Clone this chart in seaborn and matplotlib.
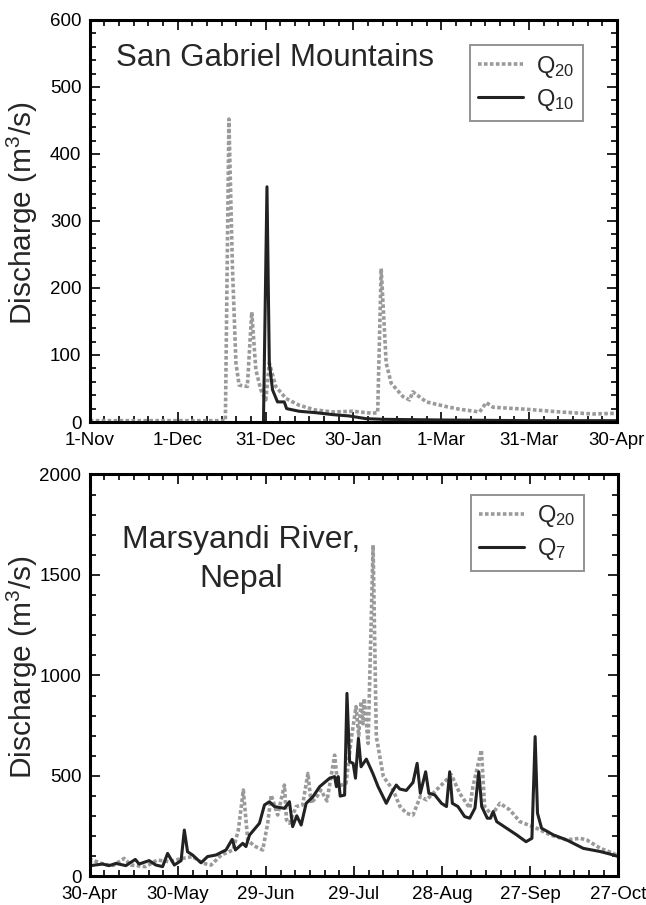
import matplotlib
matplotlib.use("Agg")
import matplotlib.pyplot as plt
from matplotlib.ticker import MultipleLocator, FixedLocator
import seaborn as sns
import pandas as pd

# ---------------- data ----------------
# Top panel: San Gabriel Mountains (days since 1-Nov)
sg_q20_day = [0, 10, 20, 30, 40, 46.3, 47.5, 48.7, 49.9, 51.0, 53.8, 55.3, 56.7, 58.4, 60.1,
              61.3, 63.5, 67.0, 71.5, 77.0, 83.0, 89.8, 96.6, 98.3, 99.5, 101.2, 102.9,
              106.9, 109.2, 110.3, 114.9, 121.7, 126.3, 133.1, 135.4, 137.7, 149.1, 160.5,
              171.9, 180]
sg_q20_val = [2, 2, 2, 2, 2, 2, 452, 232, 88, 55, 53, 164, 78, 48, 33,
              88, 53, 35, 25, 18, 15, 16, 13, 14, 229, 88, 58,
              38, 33, 45, 30, 23, 19, 15, 29, 22, 19, 15,
              12, 13]
sg_q10_day = [59.3, 60.5, 61.3, 62.4, 64.1, 66.4, 67.2, 71.5, 77.0, 83.0, 88.6, 94.3,
              100.0, 120, 150, 180]
sg_q10_val = [0, 351, 88, 48, 30, 30, 20, 16, 14, 11, 9, 5,
              4, 3, 2, 2]
sg_tick_labels = ["1-Nov", "1-Dec", "31-Dec", "30-Jan", "1-Mar", "31-Mar", "30-Apr"]

# Bottom panel: Marsyandi River, Nepal (days since 30-Apr)
mr_q7_day = [0.3, 4.3, 6.6, 8.9, 12.3, 15.5, 16.8, 20.2, 22.5, 24.8, 26.5, 28.8, 31.1, 32.2,
             33.3, 35.0, 37.9, 40.1, 43.0, 46.4, 48.5, 49.6, 52.1, 53.2, 54.4, 57.8, 59.5,
             61.2, 62.9, 66.3, 68.0, 69.1, 70.5, 72.0, 73.7, 76.0, 78.3, 81.7, 83.4, 84.0,
             84.6, 85.3, 86.8, 87.6, 88.5, 89.7, 90.5, 91.5, 92.4, 94.2, 96.4, 98.2, 101.0,
             102.7, 104.4, 105.6, 107.8, 110.1, 111.5, 112.6, 114.4, 115.5, 117.5, 119.8,
             121.5, 122.6, 123.5, 125.4, 127.7, 129.4, 131.2, 132.5, 133.5, 135.4, 136.5,
             137.4, 138.6, 142.0, 145.4, 148.6, 150.6, 151.7, 152.5, 153.9, 157.9, 162.4,
             168.1, 173.9, 178.4, 180]
mr_q7_val = [54, 62, 54, 65, 54, 85, 62, 79, 57, 49, 115, 57, 79, 231,
             123, 107, 68, 99, 107, 132, 185, 132, 165, 149, 206, 265, 356,
             372, 348, 339, 372, 248, 302, 256, 364, 397, 447, 489, 497, 447,
             497, 400, 405, 911, 571, 563, 489, 687, 546, 584, 513, 447, 364,
             414, 455, 435, 428, 468, 563, 414, 521, 414, 406, 364,
             348, 521, 364, 348, 298, 290, 340, 521, 348, 290, 290,
             323, 273, 240, 207, 173, 190, 696, 315, 240, 207, 182,
             140, 124, 107, 99]
mr_q20_day = [0.0, 0.8, 5.0, 8.0, 11.7, 14.0, 19.0, 23.0, 27.0, 31.6, 35.0, 38.5, 41.3,
              44.8, 48.8, 50.6, 52.3, 53.8, 56.0, 58.9, 60.6, 61.8, 64.0, 66.3, 67.0,
              68.0, 70.3, 72.5, 74.3, 75.4, 77.7, 78.7, 80.8, 83.4, 84.5, 87.3, 89.0,
              90.7, 91.6, 92.4, 93.0, 93.5, 94.8, 96.5, 97.6, 100.0, 103.3, 105.6,
              107.9, 110.1, 112.6, 114.7, 118.1, 123.2, 126.0, 129.4, 130.5, 133.4,
              134.5, 136.9, 139.7, 143.1, 146.5, 152.2, 156.8, 162.4, 167.0, 169.3,
              173.9, 178.4, 180]
mr_q20_val = [70, 82, 60, 55, 90, 57, 49, 82, 74, 90, 99, 66, 57,
              107, 132, 231, 430, 181, 152, 132, 265, 405, 306, 455, 281,
              265, 348, 356, 513, 364, 405, 430, 376, 604, 447, 464, 679,
              845, 700, 870, 760, 886, 662, 1649, 696, 497, 430, 350,
              314, 306, 398, 381, 431, 505, 414, 340, 447, 629,
              348, 306, 364, 331, 273, 240, 207, 182, 190, 182,
              140, 115, 99]
mr_tick_labels = ["30-Apr", "30-May", "29-Jun", "29-Jul", "28-Aug", "27-Sep", "27-Oct"]

# ---------------- style ----------------
sns.set_style("ticks")
plt.rcParams["font.family"] = ["Liberation Sans", "DejaVu Sans"]
plt.rcParams["mathtext.default"] = "regular"

GRAY = "#9a9a9a"
BLACK = "#222222"

fig = plt.figure(figsize=(6.46, 9.05), dpi=100)
ax1 = fig.add_axes([0.139, 0.5337, 0.816, 0.4443])
ax2 = fig.add_axes([0.139, 0.0315, 0.818, 0.4442])

dot = (0, (1.0, 0.65))


def draw(ax, d1, v1, lab1, d2, v2, lab2):
    df1 = pd.DataFrame({"day": d1, "q": v1})
    df2 = pd.DataFrame({"day": d2, "q": v2})
    sns.lineplot(data=df1, x="day", y="q", ax=ax, color=GRAY, lw=2.6,
                 linestyle=dot, estimator=None, sort=False, label=lab1)
    sns.lineplot(data=df2, x="day", y="q", ax=ax, color=BLACK, lw=2.2,
                 estimator=None, sort=False, label=lab2)


draw(ax1, sg_q20_day, sg_q20_val, "Q$_{20}$", sg_q10_day, sg_q10_val, "Q$_{10}$")
draw(ax2, mr_q20_day, mr_q20_val, "Q$_{20}$", mr_q7_day, mr_q7_val, "Q$_{7}$")

for ax, labels, ymax, ymaj, ymin in [(ax1, sg_tick_labels, 600, 100, 20),
                                     (ax2, mr_tick_labels, 2000, 500, 100)]:
    ax.set_xlim(0, 180)
    ax.set_ylim(0, ymax)
    ax.xaxis.set_major_locator(FixedLocator([0, 30, 60, 90, 120, 150, 180]))
    ax.set_xticklabels(labels)
    ax.xaxis.set_minor_locator(MultipleLocator(5))
    ax.yaxis.set_major_locator(MultipleLocator(ymaj))
    ax.yaxis.set_minor_locator(MultipleLocator(ymin))
    ax.tick_params(which="both", direction="in", top=True, right=True,
                   labelsize=13.5, colors="black", width=1.2)
    ax.tick_params(which="major", length=7)
    ax.tick_params(axis="x", which="major", pad=7)
    ax.tick_params(axis="y", which="major", pad=6)
    ax.tick_params(which="minor", length=4)
    for s in ax.spines.values():
        s.set_linewidth(2.2)
        s.set_color("black")
    ax.set_xlabel("")
    ax.set_ylabel("Discharge (m$^3$/s)", fontsize=21.5, va="center")
    ax.yaxis.set_label_coords(-0.128, 0.52)
    leg = ax.legend(loc="upper right", fontsize=17, frameon=True, fancybox=False,
                    handlelength=1.9, handletextpad=0.55, labelspacing=0.3,
                    borderpad=0.35, borderaxespad=0)
    leg.get_frame().set_edgecolor("#777777")
    leg.get_frame().set_linewidth(1.4)

ax1.get_legend().set_bbox_to_anchor((0.935, 0.937), transform=ax1.transAxes)
ax2.get_legend().set_bbox_to_anchor((0.935, 0.949), transform=ax2.transAxes)

ax1.text(0.05, 0.905, "San Gabriel Mountains", transform=ax1.transAxes,
         fontsize=22.5, ha="left", va="center")
ax2.text(0.287, 0.788, "Marsyandi River,\nNepal", transform=ax2.transAxes,
         fontsize=23, ha="center", va="center", multialignment="center",
         linespacing=1.4)

fig.savefig("out.png", dpi=100)
